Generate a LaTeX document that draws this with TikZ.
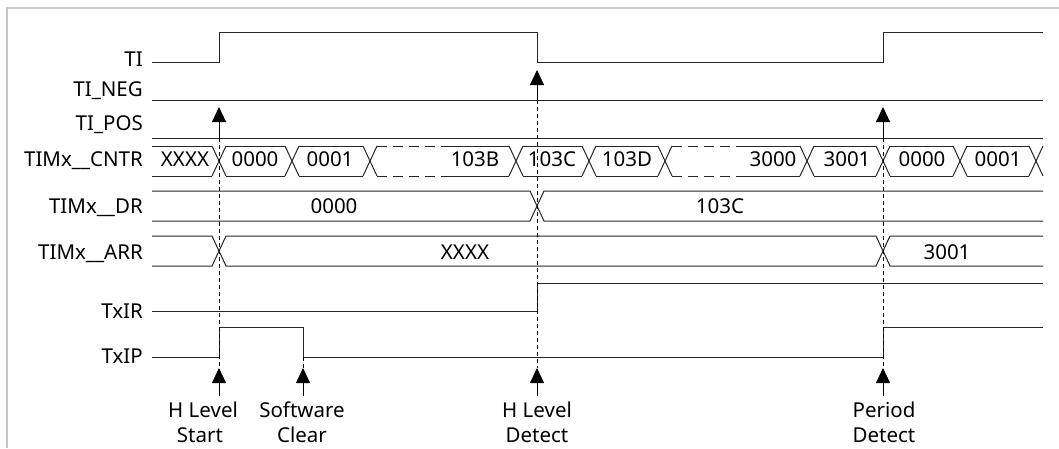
\documentclass[tikz,border=0pt]{standalone}
\usepackage{fontspec}
\setmainfont{Noto Sans}
\usetikzlibrary{arrows.meta}
\begin{document}
\begin{tikzpicture}[x=1pt,y=-1pt,
  sig/.style={line width=1pt,black!85,line join=miter},
  lbl/.style={anchor=base east,inner sep=0pt,font=\fontsize{20.5}{24}\selectfont},
  val/.style={anchor=base,inner sep=0pt,font=\fontsize{20.5}{24}\selectfont},
  guide/.style={line width=0.9pt,black,dash pattern=on 4pt off 3pt},
  longdash/.style={line width=1pt,black!85,dash pattern=on 10pt off 6pt},
  evt/.style={line width=1pt,black,-{Triangle[width=14pt,length=15pt]}},
  note/.style={anchor=base,inner sep=0pt,font=\fontsize{20.5}{24}\selectfont},
  frame/.style={line width=2pt,color=black!22}]
\useasboundingbox (0,0) rectangle (1059,448);
\draw[frame] (7,448) -- (7,8) -- (1059,8);

% signal names
\node[lbl] (lTI)   at (143,66)  {TI};
\node[lbl] (lNEG)  at (143,96)  {TI\_NEG};
\node[lbl] (lPOS)  at (143,130) {TI\_POS};
\node[lbl] (lCNTR) at (143,166) {TIMx\_\_CNTR};
\node[lbl] (lDR)   at (143,213) {TIMx\_\_DR};
\node[lbl] (lARR)  at (143,259) {TIMx\_\_ARR};
\node[lbl] (lIR)   at (143,318) {TxIR};
\node[lbl] (lIP)   at (143,363) {TxIP};

% TI, TI_NEG, TI_POS
\draw[sig] (152,62) -- (219,62) -- (219,32) -- (537,32) -- (537,62) -- (883,62) -- (883,32) -- (1043,32);
\draw[sig] (152,100) -- (1043,100);
\draw[sig] (152,138) -- (1043,138);

% TIMx__CNTR bus
\foreach \c in {219,292,370,516,589,665,807,883,960,1036}{
  \draw[sig] (\c-7,146) -- (\c+7,176);
  \draw[sig] (\c-7,176) -- (\c+7,146);
}
\foreach \a/\b in {152/212,226/285,299/363,447/509,523/582,596/658,740/800,814/876,890/953,967/1029}{
  \draw[sig] (\a,146) -- (\b,146);
  \draw[sig] (\a,176) -- (\b,176);
}
\draw[longdash] (377,146) -- (447,146);
\draw[longdash] (377,176) -- (447,176);
\draw[longdash] (672,146) -- (740,146);
\draw[longdash] (672,176) -- (740,176);
\node[val] (c1)  at (185,166) {XXXX};
\node[val] (c2)  at (255,166) {0000};
\node[val] (c3)  at (330,166) {0001};
\node[val] (c4)  at (475,166) {103B};
\node[val] (c5)  at (552,166) {103C};
\node[val] (c6)  at (627,166) {103D};
\node[val] (c7)  at (773,166) {3000};
\node[val] (c8)  at (847,166) {3001};
\node[val] (c9)  at (922,166) {0000};
\node[val] (c10) at (998,166) {0001};

% TIMx__DR bus
\draw[sig] (152,191) -- (530,191) -- (544,221) -- (1043,221);
\draw[sig] (152,221) -- (530,221) -- (544,191) -- (1043,191);
\node[val] (d1) at (334,213) {0000};
\node[val] (d2) at (720,213) {103C};

% TIMx__ARR bus
\draw[sig] (152,236) -- (212,236) -- (226,266) -- (876,266) -- (890,236) -- (1043,236);
\draw[sig] (152,266) -- (212,266) -- (226,236) -- (876,236) -- (890,266) -- (1043,266);
\node[val] (a1) at (465,259) {XXXX};
\node[val] (a2) at (947,259) {3001};

% TxIR, TxIP
\draw[sig] (152,311) -- (537,311) -- (537,283) -- (1043,283);
\draw[sig] (152,357) -- (219,357) -- (219,327) -- (303,327) -- (303,357) -- (883,357) -- (883,327) -- (1043,327);

% event markers
\coordinate (t1s) at (219,138); \coordinate (t1e) at (219,107);
\coordinate (t2s) at (537,100); \coordinate (t2e) at (537,70);
\coordinate (t3s) at (883,138); \coordinate (t3e) at (883,107);
\coordinate (b1s) at (219,396); \coordinate (b1e) at (219,368);
\coordinate (b2s) at (303,396); \coordinate (b2e) at (303,368);
\coordinate (b3s) at (537,396); \coordinate (b3e) at (537,368);
\coordinate (b4s) at (883,396); \coordinate (b4e) at (883,368);

\draw[guide] (t1s) -- (b1e);
\draw[guide] (303,357) -- (b2e);
\draw[guide] (t2s) -- (b3e);
\draw[guide] (t3s) -- (b4e);

\draw[evt] (t1s) -- (t1e);
\draw[evt] (t2s) -- (t2e);
\draw[evt] (t3s) -- (t3e);
\draw[evt] (b1s) -- (b1e);
\draw[evt] (b2s) -- (b2e);
\draw[evt] (b3s) -- (b3e);
\draw[evt] (b4s) -- (b4e);

\node[note] (n1a) at (203,417) {H Level};
\node[note] (n1b) at (200,442) {Start};
\node[note] (n2a) at (302,417) {Software};
\node[note] (n2b) at (302,442) {Clear};
\node[note] (n3a) at (537,417) {H Level};
\node[note] (n3b) at (537,442) {Detect};
\node[note] (n4a) at (884,417) {Period};
\node[note] (n4b) at (884,442) {Detect};
\end{tikzpicture}
\end{document}
